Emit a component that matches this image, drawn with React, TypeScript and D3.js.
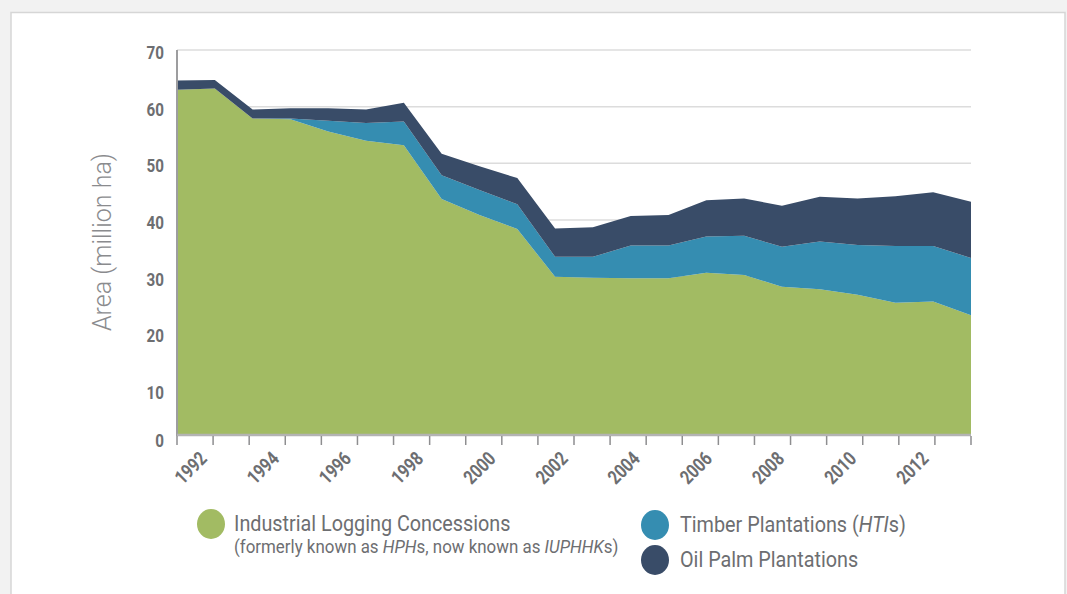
import React from "react";
import * as d3 from "d3";

const YEARS = [1992, 1993, 1994, 1995, 1996, 1997, 1998, 1999, 2000, 2001, 2002, 2003, 2004, 2005, 2006, 2007, 2008, 2009, 2010, 2011, 2012, 2013];
const LOGGING = [63.0, 63.2, 57.9, 57.8, 55.6, 54.0, 53.2, 43.7, 40.9, 38.4, 30.0, 29.8, 29.7, 29.7, 30.7, 30.3, 28.2, 27.8, 26.8, 25.4, 25.6, 23.2];
const TIMBER = [0.0, 0.0, 0.0, 0.1, 1.9, 3.1, 4.2, 4.2, 4.4, 4.4, 3.5, 3.7, 5.8, 5.8, 6.4, 6.9, 7.1, 8.4, 8.8, 10.0, 9.8, 10.1];
const OILPALM = [1.6, 1.5, 1.6, 1.8, 2.2, 2.4, 3.3, 3.8, 4.2, 4.6, 5.0, 5.2, 5.2, 5.4, 6.4, 6.6, 7.2, 7.9, 8.2, 8.8, 9.5, 9.9];
const Y_TICKS = [0, 10, 20, 30, 40, 50, 60, 70];
const X_LABEL_YEARS = [1992, 1994, 1996, 1998, 2000, 2002, 2004, 2006, 2008, 2010, 2012];
const SERIES_KEYS = ["logging", "timber", "oilpalm"];
const SERIES_COLORS = ["#a2bb63", "#358db1", "#394c68"];

const W = 1067;
const H = 594;
const X0 = 177;
const X1 = 971;
const TEXT = "#6d6e71";
const FONT = "Roboto, 'Noto Sans', sans-serif";
const SQUEEZE = 0.8;

export default function App() {
  const table = YEARS.map((year, i) => ({ year, logging: LOGGING[i], timber: TIMBER[i], oilpalm: OILPALM[i] }));
  const stacked = d3.stack<any>().keys(SERIES_KEYS)(table);

  const xPoint = d3.scalePoint<number>().domain(YEARS).range([X0, X1]);
  const xBand = d3.scaleBand<number>().domain(YEARS).range([X0, X1]).padding(0);
  // the reference axis is compressed between 0 and 10
  const y = d3.scaleLinear().domain([0, 10, 70]).range([435, 390, 50]);

  const area = d3
    .area<any>()
    .x((d) => xPoint(d.data.year) as number)
    .y0((d) => y(d[0]))
    .y1((d) => y(d[1]));

  const tickXs = [...YEARS.map((yr) => xBand(yr) as number), X1];

  return (
    <svg width={W} height={H} style={{ position: "absolute", left: 0, top: 0, display: "block" }}>
      <rect x={0} y={0} width={W} height={H} fill="#f2f2f2" />
      <rect x={11} y={12.5} width={1054} height={600} fill="#ffffff" stroke="#d6d6d6" strokeWidth={1.5} />

      {/* gridlines */}
      {Y_TICKS.filter((t) => t > 0).map((t) => (
        <line key={t} x1={X0} x2={X1} y1={y(t)} y2={y(t)} stroke="#dcdcdc" strokeWidth={1.5} />
      ))}

      {/* areas */}
      {stacked.map((s, i) => (
        <path key={SERIES_KEYS[i]} d={area(s as any) || ""} fill={SERIES_COLORS[i]} />
      ))}

      {/* y axis */}
      <line x1={X0} x2={X0} y1={50} y2={436} stroke="#9d9d9f" strokeWidth={2} />
      {Y_TICKS.map((t) => (
        <text
          key={t}
          transform={`translate(164, ${t === 0 ? 447 : y(t) + 9}) scale(${SQUEEZE}, 1)`}
          textAnchor="end"
          fontFamily={FONT}
          fontWeight="bold"
          fontSize={19}
          fill={TEXT}
        >
          {t}
        </text>
      ))}
      <text
        transform={`translate(111, 242) rotate(-90)`}
        textAnchor="middle"
        fontFamily={FONT}
        fontWeight={300}
        fontSize={25}
        fill="#8a8b8e"
      >
        Area (million ha)
      </text>

      {/* x axis */}
      <line x1={X0} x2={X1} y1={435} y2={435} stroke="#b3b3b3" strokeWidth={2.5} />
      {tickXs.map((tx, i) => (
        <line key={i} x1={tx} x2={tx} y1={436} y2={445} stroke="#8e8e90" strokeWidth={1.5} />
      ))}
      {X_LABEL_YEARS.map((yr) => {
        const cx = (xBand(yr) as number) + xBand.bandwidth() / 2;
        return (
          <text
            key={yr}
            transform={`translate(${cx + 13}, 460) rotate(-45) scale(${SQUEEZE}, 1)`}
            textAnchor="end"
            fontFamily={FONT}
            fontWeight="bold"
            fontSize={19.5}
            fill={TEXT}
          >
            {yr}
          </text>
        );
      })}

      {/* legend */}
      <ellipse cx={211} cy={524} rx={14} ry={15} fill={SERIES_COLORS[0]} />
      <text transform={`translate(234, 531) scale(0.9, 1)`} fontFamily={FONT} fontSize={22} fill={TEXT}>
        Industrial Logging Concessions
      </text>
      <text transform={`translate(234, 553) scale(0.95, 1)`} fontFamily={FONT} fontSize={17.8} fill={TEXT}>
        (formerly known as <tspan fontStyle="italic">HPH</tspan>s, now known as <tspan fontStyle="italic">IUPHHK</tspan>s)
      </text>

      <ellipse cx={655} cy={525} rx={14} ry={15} fill={SERIES_COLORS[1]} />
      <text transform={`translate(680, 532) scale(0.9, 1)`} fontFamily={FONT} fontSize={22} fill={TEXT}>
        Timber Plantations (<tspan fontStyle="italic">HTI</tspan>s)
      </text>
      <ellipse cx={655} cy={560} rx={14} ry={15} fill={SERIES_COLORS[2]} />
      <text transform={`translate(680, 567) scale(0.9, 1)`} fontFamily={FONT} fontSize={22} fill={TEXT}>
        Oil Palm Plantations
      </text>
    </svg>
  );
}
